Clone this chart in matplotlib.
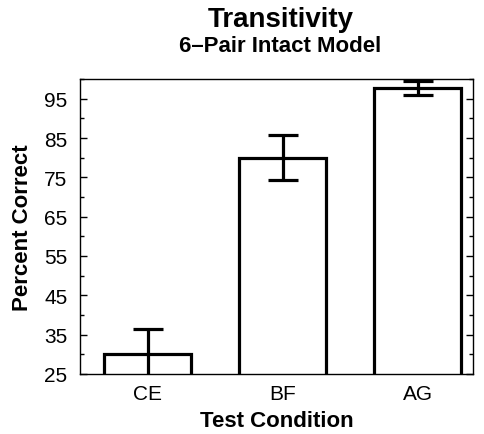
import matplotlib
matplotlib.use("Agg")
import matplotlib.pyplot as plt
from matplotlib.ticker import MultipleLocator

plt.rcParams['font.family'] = ['Liberation Sans', 'DejaVu Sans']

conditions = ['CE', 'BF', 'AG']
percent_correct = [30.2, 80.0, 97.8]
errors = [6.2, 5.8, 1.8]
yticks = [25, 35, 45, 55, 65, 75, 85, 95]

fig = plt.figure(figsize=(4.85, 4.35), dpi=100)
ax = fig.add_axes([0.165, 0.138, 0.81, 0.678])

x = range(len(conditions))
ax.bar(x, percent_correct, width=0.65, color='white', edgecolor='black',
       linewidth=2.3, zorder=2)
ax.errorbar(x, percent_correct, yerr=errors, fmt='none', ecolor='black',
            elinewidth=2.3, capsize=11, capthick=2.3, zorder=3)

ax.set_xlim(-0.5, 2.41)
ax.set_ylim(25, 100)
ax.set_xticks(list(x))
ax.set_xticklabels(conditions)
ax.set_yticks(yticks)
ax.yaxis.set_minor_locator(MultipleLocator(5))
ax.tick_params(axis='x', length=0, labelsize=15, pad=7)
ax.tick_params(axis='y', which='major', direction='in', length=5, width=1,
               labelsize=15, right=True, pad=9)
ax.tick_params(axis='y', which='minor', direction='in', length=3, width=1,
               right=True)
for s in ax.spines.values():
    s.set_linewidth(1.0)

ax.set_xlabel('Test Condition', fontsize=16, fontweight='bold', labelpad=5)
ax.set_ylabel('Percent Correct', fontsize=16, fontweight='bold', labelpad=8)

fig.text(0.578, 0.954, 'Transitivity', ha='center', va='center',
         fontsize=20, fontweight='bold')
fig.text(0.578, 0.892, '6\u2013Pair Intact Model', ha='center', va='center',
         fontsize=16, fontweight='bold')

fig.savefig('out.png', dpi=100)
